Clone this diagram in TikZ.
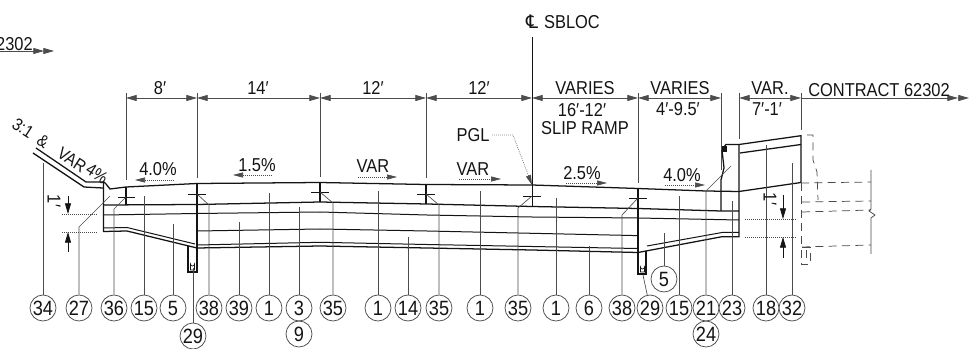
\documentclass[tikz,border=0pt]{standalone}
\usepackage{fontspec}
\setmainfont[FakeStretch=0.88]{Liberation Sans}
\newfontfamily\symfont{DejaVu Sans}
\usetikzlibrary{arrows.meta}
\definecolor{ink}{gray}{0.08}
\definecolor{lead}{gray}{0.3}
\tikzset{
 every node/.style={text=ink,font=\fontsize{14}{15}\selectfont,inner sep=0pt},
 bub/.style={draw=lead,line width=0.55pt,circle,minimum size=19.5pt,font=\fontsize{15.5}{16}\selectfont},
 main/.style={draw=ink,line width=0.95pt},
 thin layer/.style={draw=ink,line width=0.75pt},
 leader/.style={draw=lead,line width=0.5pt},
 extn/.style={draw=lead,line width=0.55pt},
 dotl/.style={draw=lead,line width=0.5pt,densely dotted},
 dim/.style={draw=lead,line width=0.55pt,{Triangle[length=8pt,width=4.5pt]}-{Triangle[length=8pt,width=4.5pt]}},
 head/.style={draw=lead,line width=0.5pt,densely dotted,-{Triangle[length=7.5pt,width=3.8pt]}},
 tip/.style={-{Triangle[length=8pt,width=4.5pt]},draw=ink,line width=0.55pt},
 dsh/.style={draw=lead,line width=0.55pt,dash pattern=on 6pt off 4pt},
 slopetxt/.style={rotate=-33,font=\fontsize{13}{14}\selectfont},
}
\begin{document}
\begin{tikzpicture}[x=0.75pt,y=-0.75pt]
\useasboundingbox (0,0) rectangle (979,349);
\fill[white] (0,0) rectangle (979,349);

% bubbles
\foreach \n/\x/\y/\t in {a/43/308/34,b/79/308/27,c/114/308/36,d/144/308/15,e/173/308/5,f/209/308/38,g/239/308/39,h/269/308/1,i/299/308/3,i2/299/334/9,j/333/308/35,k/378/308/1,l/408/308/14,m/439/308/35,n/480/308/1,o/518/308/35,p/556/308/1,q/589/308/6,r/622/308/38,s/650/308/29,t/679/308/15,u/706/308/21,u2/706/334/24,v/732/308/23,w/766/308/18,x/792/308/32,y/664/279/5,z/193/336/29}
 {\node[bub] (b\n) at (\x,\y) {\t};}

% coordinates of section stations
\foreach \n/\x in {1/126,2/197,3/320,4/426,5/532,6/638,7/721,8/739,9/801}
 {\coordinate (dt\n) at (\x,98);}

% dimension chain
\draw[dim] (dt1) -- (dt2);
\draw[dim] (dt2) -- (dt3);
\draw[dim] (dt3) -- (dt4);
\draw[dim] (dt4) -- (dt5);
\draw[dim] (dt5) -- (dt6);
\draw[dim] (dt6) -- (dt7);
\draw[dim] (dt8) -- (dt9);
\coordinate (ce) at (958,98);
\coordinate (cf) at (969,98);
\draw[extn,-{Triangle[length=8pt,width=4.5pt]}] (dt9) -- (ce);
\draw[extn,-{Triangle[length=8pt,width=4.5pt]}] (ce) -- (cf);
\coordinate (le0) at (0,51);
\coordinate (le) at (44,51);
\coordinate (lf) at (54,51);
\draw[extn,-{Triangle[length=8pt,width=4.5pt]}] (le0) -- (le);
\draw[extn,-{Triangle[length=8pt,width=4.5pt]}] (le) -- (lf);

% extension lines
\draw[extn] (126,93) -- (126,180);
\draw[extn] (197,93) -- (197,178);
\draw[extn] (320,93) -- (320,177);
\draw[extn] (426,93) -- (426,178);
\draw[main,line width=0.75pt] (532,37) -- (532,206);
\draw[extn] (638,93) -- (638,183);
\draw[extn] (721,93) -- (721,170);
\draw[extn] (739,93) -- (739,139);
\draw[extn] (801,93) -- (801,130);

% left slope and surface
\draw[main] (36,148) -- (86,182) -- (104,182) -- (106,184) -- (110,189) -- (126,187) -- (197,183.5) -- (320,182.5) -- (426,184.5) -- (532,185) -- (638,188.5) -- (706,191) -- (739,191.5) -- (801,182.5) -- (801,135.7) -- (739,144.5) -- (726,144.5) -- (723,148);
\draw[main] (33,153) -- (84,187) -- (103,188);
\draw[main] (103.5,182) -- (103.5,231.5) -- (127,231) -- (197,248) -- (320,246) -- (427,248) -- (532,250) -- (638,252.5) -- (722,236.7) -- (739,236.7) -- (739,144.5);
\draw[thin layer] (103.5,228) -- (127,227.5) -- (195,244);
\draw[thin layer] (197,245) -- (320,242.3) -- (427,244.5) -- (532,246.5) -- (637,248.5);
\draw[thin layer] (647,246) -- (722,232.5) -- (739,232.5);
\draw[main] (103.5,205) -- (197,204.5) -- (320,202) -- (427,204) -- (532,206.5) -- (638,208.5) -- (721,211) -- (739,211);
\draw[thin layer] (103.5,215) -- (197,213.5) -- (320,212) -- (427,215) -- (532,217) -- (638,218) -- (739,220);
\draw[thin layer] (197,231) -- (320,229) -- (427,231) -- (637,235.6);
\draw[main] (197,183.5) -- (197,248);
\draw[main] (638,188.5) -- (638,252.5);
\draw[main] (320,182.5) -- (320,202);
\draw[main] (426,184.5) -- (426,204);
\draw[main] (126,187) -- (126,205);
% pipes
\draw[main] (188,246.5) -- (188,272) -- (197,272) -- (197,248);
\draw[thin layer,line width=0.5pt] (190.5,270) -- (190.5,264) arc[start angle=180,end angle=0,x radius=2,y radius=2] -- (194.5,270) -- cycle;
\draw[main] (638,252) -- (638,274) -- (646,274) -- (646,251);
\draw[thin layer,line width=0.5pt] (640.5,272) -- (640.5,267) arc[start angle=180,end angle=0,x radius=2,y radius=2] -- (644.5,272) -- cycle;
% ticks
\draw[main,line width=0.6pt] (118,197) -- (135,197);
\draw[main,line width=0.6pt] (188,194) -- (206,194);
\draw[main,line width=0.6pt] (311,192) -- (329,192);
\draw[main,line width=0.6pt] (417,194) -- (435,194);
\draw[main,line width=0.6pt] (523,196) -- (541,196);
\draw[main,line width=0.6pt] (629,198) -- (647,198);
% curb
\draw[main] (721,211) -- (721,180) -- (724,168) -- (722,150);
\fill[ink] (721.5,146) rectangle (727,152);
% barrier
\draw[main] (740,153) -- (801,144.5);

% leaders
\draw[leader] (ba) -- (43,163);
\draw[leader] (bb) -- (79,227) -- (110,196);
\draw[leader] (bc) -- (114,209) -- (126,197);
\draw[leader] (bd) -- (144,196);
\draw[leader] (be) -- (173,224);
\draw[leader] (bf) -- (209,205) -- (197,194);
\draw[leader] (bg) -- (239,222);
\draw[leader] (bh) -- (269,193);
\draw[leader] (bi) -- (299,207);
\draw[leader] (bj) -- (333,203) -- (320,192);
\draw[leader] (bk) -- (378,191);
\draw[leader] (bl) -- (408,237);
\draw[leader] (bm) -- (439,205) -- (426,194);
\draw[leader] (bn) -- (480,191);
\draw[leader] (bo) -- (518,208) -- (532,196);
\draw[leader] (bp) -- (556,198);
\draw[leader] (bq) -- (589,246);
\draw[leader] (br) -- (622,215) -- (638,198);
\draw[leader] (bs) -- (643,275);
\draw[leader] (bt) -- (679,196);
\draw[leader] (bu) -- (706,191) -- (731,166);
\draw[leader] (bv) -- (732,201);
\draw[leader] (bw) -- (766,145);
\draw[leader] (bx) -- (792,163);
\draw[leader] (by) -- (664,233);
\draw[leader] (bz) -- (193,268);

% 1' dimensions
\draw[dotl] (62,214) -- (98,214);
\draw[dotl] (62,232) -- (98,232);
\draw[tip] (68,196) -- (68,214);
\draw[tip] (68,252) -- (68,232);
\draw[dotl] (745,219) -- (797,219);
\draw[dotl] (745,237) -- (797,237);
\draw[tip] (783,195) -- (783,219);
\draw[tip] (783,258) -- (783,237);
\node[rotate=-90] (onea) at (54,201) {1′};
\node[rotate=-90] (oneb) at (770,199) {1′};

% right dashed
\draw[dsh] (801,183) -- (871,182);
\draw[dsh] (802,202) -- (871,201);
\draw[dsh] (802,212) -- (871,210);
\draw[dsh] (802,247) -- (871,245);
\draw[dsh] (801,183) -- (801,264) -- (810,264) -- (810,247) -- (802,247);
\draw[dsh] (806,250) -- (806,262);
\draw[dsh] (807,135) -- (813,135) -- (813,160) -- (817,172) -- (818,200);
\draw[extn] (871,170) -- (871,209) -- (869,211) -- (875,215) -- (871,218) -- (871,254);

% slope arrows
\draw[head] (174,180) -- (135,180);
\draw[head] (272,175) -- (233,175);
\draw[head] (358,177) -- (397,177);
\draw[head] (459,179) -- (501,179);
\draw[head] (566,183) -- (607,183);
\draw[head] (665,185) -- (705,185);
% PGL leader
\draw[dotl,-{Triangle[length=7.5pt,width=3.8pt]}] (492,135) -- (513,135) -- (532,185);

% labels
\node (t1) at (160,88) {8′};
\node (t2) at (258,88) {14′};
\node (t3) at (373,88) {12′};
\node (t4) at (479,88) {12′};
\node (t5) at (585,88) {VARIES};
\node (t6) at (582,110) {16′-12′};
\node (t7) at (585,128) {SLIP RAMP};
\node (t8) at (680,88) {VARIES};
\node (t9) at (678,109) {4′-9.5′};
\node (t10) at (770,88) {VAR.};
\node (t11) at (767,109) {7′-1′};
\node[anchor=west] (t12) at (808,90) {CONTRACT 62302};
\node[anchor=east] (t13) at (33,44) {2302};
\node (t14) at (532,22) {\symfont\fontsize{14}{15}\selectfont ℄};
\node (t15) at (572,22) {SBLOC};
\node (t16) at (473,135) {PGL};
\node (t17) at (158,169) {4.0\%};
\node (t18) at (257,165) {1.5\%};
\node (t19) at (373,166) {VAR};
\node (t20) at (473,169) {VAR};
\node (t21) at (582,173) {2.5\%};
\node (t22) at (682,175) {4.0\%};
\node[slopetxt] (t23) at (23,128) {3:1};
\node[slopetxt] (t24) at (43,141) {\&};
\node[slopetxt] (t25) at (72,160) {VAR};
\node[slopetxt] (t26) at (97,174) {4\%};
\end{tikzpicture}
\end{document}
